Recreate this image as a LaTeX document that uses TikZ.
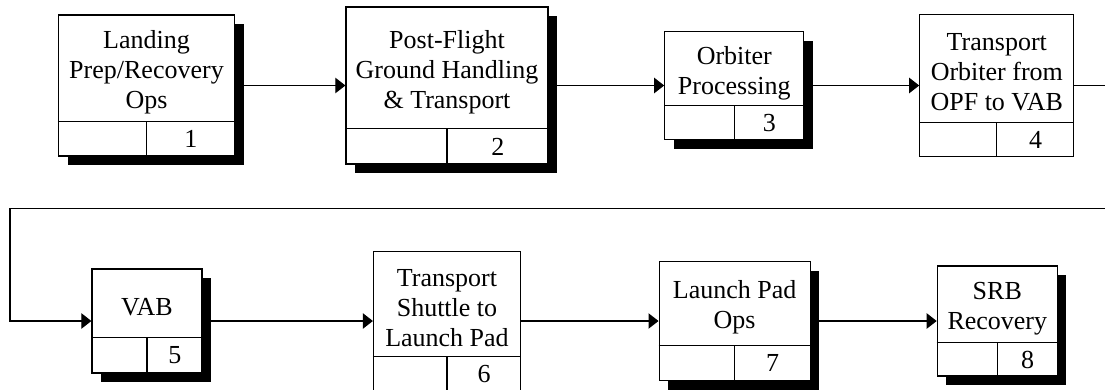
\documentclass[tikz,border=0pt]{standalone}
\usepackage{fontspec}
\setmainfont{Liberation Serif}
\usetikzlibrary{calc,arrows.meta}

\begin{document}
\begin{tikzpicture}[x=0.75pt,y=0.75pt,yscale=-1,xscale=1,
    stepbox/.style={draw, fill=white, line width=0.9pt, inner sep=0pt},
    shadowbox/.style={fill=black, inner sep=0pt},
    cellline/.style={line width=0.9pt},
    lbl/.style={align=center, inner sep=0pt, font=\fontsize{19.5}{22.5}\selectfont},
    num/.style={inner sep=0pt, font=\fontsize{19.5}{22.5}\selectfont},
    flow/.style={line width=0.8pt, -{Triangle[length=7.5pt,width=11.5pt]}}]
        \useasboundingbox (0,0) rectangle (1105,389);
        \clip (0,0) rectangle (1105,389);
        
        %Shape: Rectangle [land]
        \node [shadowbox, minimum width=132pt, minimum height=105.75pt] (land-sh) at (155.5,94.5) {};
        \node [stepbox, minimum width=132pt, minimum height=105.75pt] (land) at (146.5,85.5) {};
        \draw [cellline] ($(land.south west)+(0,-35)$) -- ($(land.south east)+(0,-35)$);
        \draw [cellline] (land.south) -- ($(land.south)+(0,-35)$);
        %Shape: Rectangle [post]
        \node [shadowbox, minimum width=151.5pt, minimum height=117.75pt] (post-sh) at (456,94.5) {};
        \node [stepbox, minimum width=151.5pt, minimum height=117.75pt] (post) at (447,85.5) {};
        \draw [cellline] ($(post.south west)+(0,-36)$) -- ($(post.south east)+(0,-36)$);
        \draw [cellline] (post.south) -- ($(post.south)+(0,-36)$);
        %Shape: Rectangle [orb]
        \node [shadowbox, minimum width=104.25pt, minimum height=81pt] (orb-sh) at (743.3,94.5) {};
        \node [stepbox, minimum width=104.25pt, minimum height=81pt] (orb) at (734.3,85.5) {};
        \draw [cellline] ($(orb.south west)+(0,-35)$) -- ($(orb.south east)+(0,-35)$);
        \draw [cellline] (orb.south) -- ($(orb.south)+(0,-35)$);
        %Shape: Rectangle [trans]
        \node [stepbox, minimum width=115.5pt, minimum height=106.5pt] (trans) at (996.8,85.5) {};
        \draw [cellline] ($(trans.south west)+(0,-35)$) -- ($(trans.south east)+(0,-35)$);
        \draw [cellline] (trans.south) -- ($(trans.south)+(0,-35)$);
        
        %Shape: Rectangle [vab]
        \node [shadowbox, minimum width=82.5pt, minimum height=78pt] (vab-sh) at (156,330) {};
        \node [stepbox, minimum width=82.5pt, minimum height=78pt] (vab) at (147,321) {};
        \draw [cellline] ($(vab.south west)+(0,-36)$) -- ($(vab.south east)+(0,-36)$);
        \draw [cellline] (vab.south) -- ($(vab.south)+(0,-36)$);
        %Shape: Rectangle [shut]
        \node [stepbox, minimum width=110.25pt, minimum height=104.25pt] (shut) at (447,321) {};
        \draw [cellline] ($(shut.south west)+(0,-35)$) -- ($(shut.south east)+(0,-35)$);
        \draw [cellline] (shut.south) -- ($(shut.south)+(0,-35)$);
        %Shape: Rectangle [pad]
        \node [shadowbox, minimum width=113.25pt, minimum height=89.25pt] (pad-sh) at (743.6,330) {};
        \node [stepbox, minimum width=113.25pt, minimum height=89.25pt] (pad) at (734.6,321) {};
        \draw [cellline] ($(pad.south west)+(0,-36)$) -- ($(pad.south east)+(0,-36)$);
        \draw [cellline] (pad.south) -- ($(pad.south)+(0,-36)$);
        %Shape: Rectangle [srb]
        \node [shadowbox, minimum width=90pt, minimum height=82.5pt] (srb-sh) at (1006.3,330) {};
        \node [stepbox, minimum width=90pt, minimum height=82.5pt] (srb) at (997.3,321) {};
        \draw [cellline] ($(srb.south west)+(0,-34)$) -- ($(srb.south east)+(0,-34)$);
        \draw [cellline] (srb.south) -- ($(srb.south)+(0,-34)$);
        
        %Straight Lines
        \draw [flow] (land.east) -- (post.west);
        \draw [flow] (post.east) -- (orb.west);
        \draw [flow] (orb.east) -- (trans.west);
        \coordinate (wrap) at (10,208.3);
        \draw [flow] (trans.east) -- ++(45,0) |- (wrap) |- (vab.west);
        \draw [flow] (vab.east) -- (shut.west);
        \draw [flow] (shut.east) -- (pad.west);
        \draw [flow] (pad.east) -- (srb.west);
        
        % Text Node
        \node [lbl] (land-t) at ($(land.north)+(0,58)$) {Landing\\Prep/Recovery\\Ops};
        \node [num] (land-n) at ($(land.south)!0.5!(land.south east)+(0,-17.5)$) {1};
        % Text Node
        \node [lbl] (post-t) at ($(post.north)+(0,65.5)$) {Post-Flight\\Ground Handling\\\& Transport};
        \node [num] (post-n) at ($(post.south)!0.5!(post.south east)+(0,-18)$) {2};
        % Text Node
        \node [lbl] (orb-t) at ($(orb.north)+(0,42)$) {Orbiter\\Processing};
        \node [num] (orb-n) at ($(orb.south)!0.5!(orb.south east)+(0,-17.5)$) {3};
        % Text Node
        \node [lbl] (trans-t) at ($(trans.north)+(0,58.5)$) {Transport\\Orbiter from\\OPF to VAB};
        \node [num] (trans-n) at ($(trans.south)!0.5!(trans.south east)+(0,-17.5)$) {4};
        % Text Node
        \node [lbl] (vab-t) at ($(vab.north)+(0,39)$) {VAB};
        \node [num] (vab-n) at ($(vab.south)!0.5!(vab.south east)+(0,-18)$) {5};
        % Text Node
        \node [lbl] (shut-t) at ($(shut.north)+(0,57)$) {Transport\\Shuttle to\\Launch Pad};
        \node [num] (shut-n) at ($(shut.south)!0.5!(shut.south east)+(0,-17.5)$) {6};
        % Text Node
        \node [lbl] (pad-t) at ($(pad.north)+(0,46.5)$) {Launch Pad\\Ops};
        \node [num] (pad-n) at ($(pad.south)!0.5!(pad.south east)+(0,-18)$) {7};
        % Text Node
        \node [lbl] (srb-t) at ($(srb.north)+(0,43)$) {SRB\\Recovery};
        \node [num] (srb-n) at ($(srb.south)!0.5!(srb.south east)+(0,-17)$) {8};
        
\end{tikzpicture}
\end{document}
